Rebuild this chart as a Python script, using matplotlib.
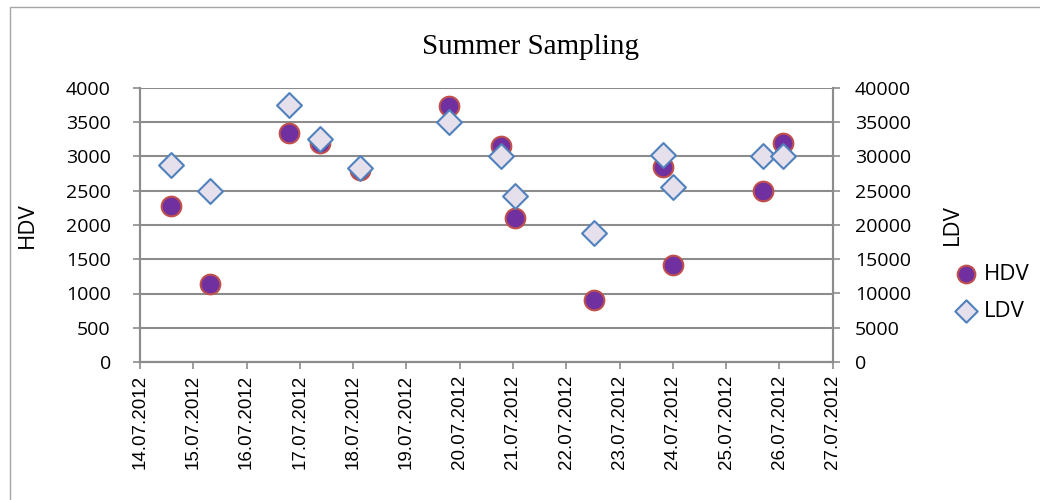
import pandas as pd
import matplotlib
matplotlib.use("Agg")
import matplotlib.pyplot as plt
import matplotlib.dates as mdates
from matplotlib.patches import Rectangle

# sampling times
dates = pd.to_datetime([
    "2012-07-14 14:00", "2012-07-15 07:30", "2012-07-16 19:00", "2012-07-17 09:00",
    "2012-07-18 03:00", "2012-07-19 19:00", "2012-07-20 18:30", "2012-07-21 01:00",
    "2012-07-22 12:30", "2012-07-23 19:30", "2012-07-24 00:00", "2012-07-25 16:30",
    "2012-07-26 01:30",
])
hdv = [2280, 1140, 3340, 3190, 2800, 3730, 3160, 2100, 900, 2840, 1420, 2490, 3190]
ldv = [28700, 24900, 37500, 32600, 28300, 35000, 30000, 24300, 18900, 30200, 25600, 30000, 30000]

grey = "#8c8c8c"
plt.rcParams['font.family'] = ['Open Sans', 'DejaVu Sans']

fig = plt.figure(figsize=(10.4, 5), dpi=100)
ax = fig.add_axes([0.1346, 0.276, 0.666, 0.548])
ax2 = ax.twinx()

fig.patches.append(Rectangle((0.01, -0.1), 1.2, 1.086, transform=fig.transFigure,
                             fill=False, edgecolor="#a6a6a6", linewidth=1))

ax.scatter(dates, hdv, s=200, marker="o", facecolor="#7030A0", edgecolor="#C0504D",
           linewidth=1.5, zorder=3, label="HDV")
ax2.scatter(dates, ldv, s=160, marker="D", facecolor="#E6E0EC", edgecolor="#4F81BD",
            linewidth=1.5, zorder=3, label="LDV")

ax.set_xlim(pd.Timestamp("2012-07-14"), pd.Timestamp("2012-07-27"))
ax.xaxis.set_major_locator(mdates.DayLocator())
ax.xaxis.set_major_formatter(mdates.DateFormatter("%d.%m.%Y"))

ax.set_ylim(0, 4000)
ax.set_yticks(range(0, 4001, 500))
ax2.set_ylim(0, 40000)
ax2.set_yticks(range(0, 40001, 5000))
ax.yaxis.grid(True, color=grey, linewidth=1.5)
ax.set_axisbelow(True)

for a in (ax, ax2):
    a.tick_params(axis="y", colors=grey, labelcolor="black", labelsize=14, length=5,
                  width=1.2, pad=11)
    for s in a.spines.values():
        s.set_color(grey)
        s.set_linewidth(1.5)
    a.spines["top"].set_visible(False)
ax.tick_params(axis="y", pad=16)
ax.tick_params(axis="x", colors=grey, labelcolor="black", length=5, width=1.2, pad=4)
for t in ax.get_xticklabels():
    t.set_rotation(90)
    t.set_fontsize(13.5)
    t.set_family("Liberation Sans")

ax.set_ylabel("HDV", fontsize=16, labelpad=20)
ax2.set_ylabel("LDV", fontsize=16, labelpad=22)
fig.text(0.51, 0.906, "Summer Sampling", fontsize=21, family="Liberation Serif",
         ha="center", va="center")

h1, l1 = ax.get_legend_handles_labels()
h2, l2 = ax2.get_legend_handles_labels()
fig.legend(h1 + h2, l1 + l2, loc="center left", bbox_to_anchor=(0.918, 0.414),
           frameon=False, fontsize=16, borderpad=0, borderaxespad=0, handlelength=1,
           handletextpad=0.3, labelspacing=0.7, markerscale=0.9)

fig.savefig("out.png", dpi=100)
